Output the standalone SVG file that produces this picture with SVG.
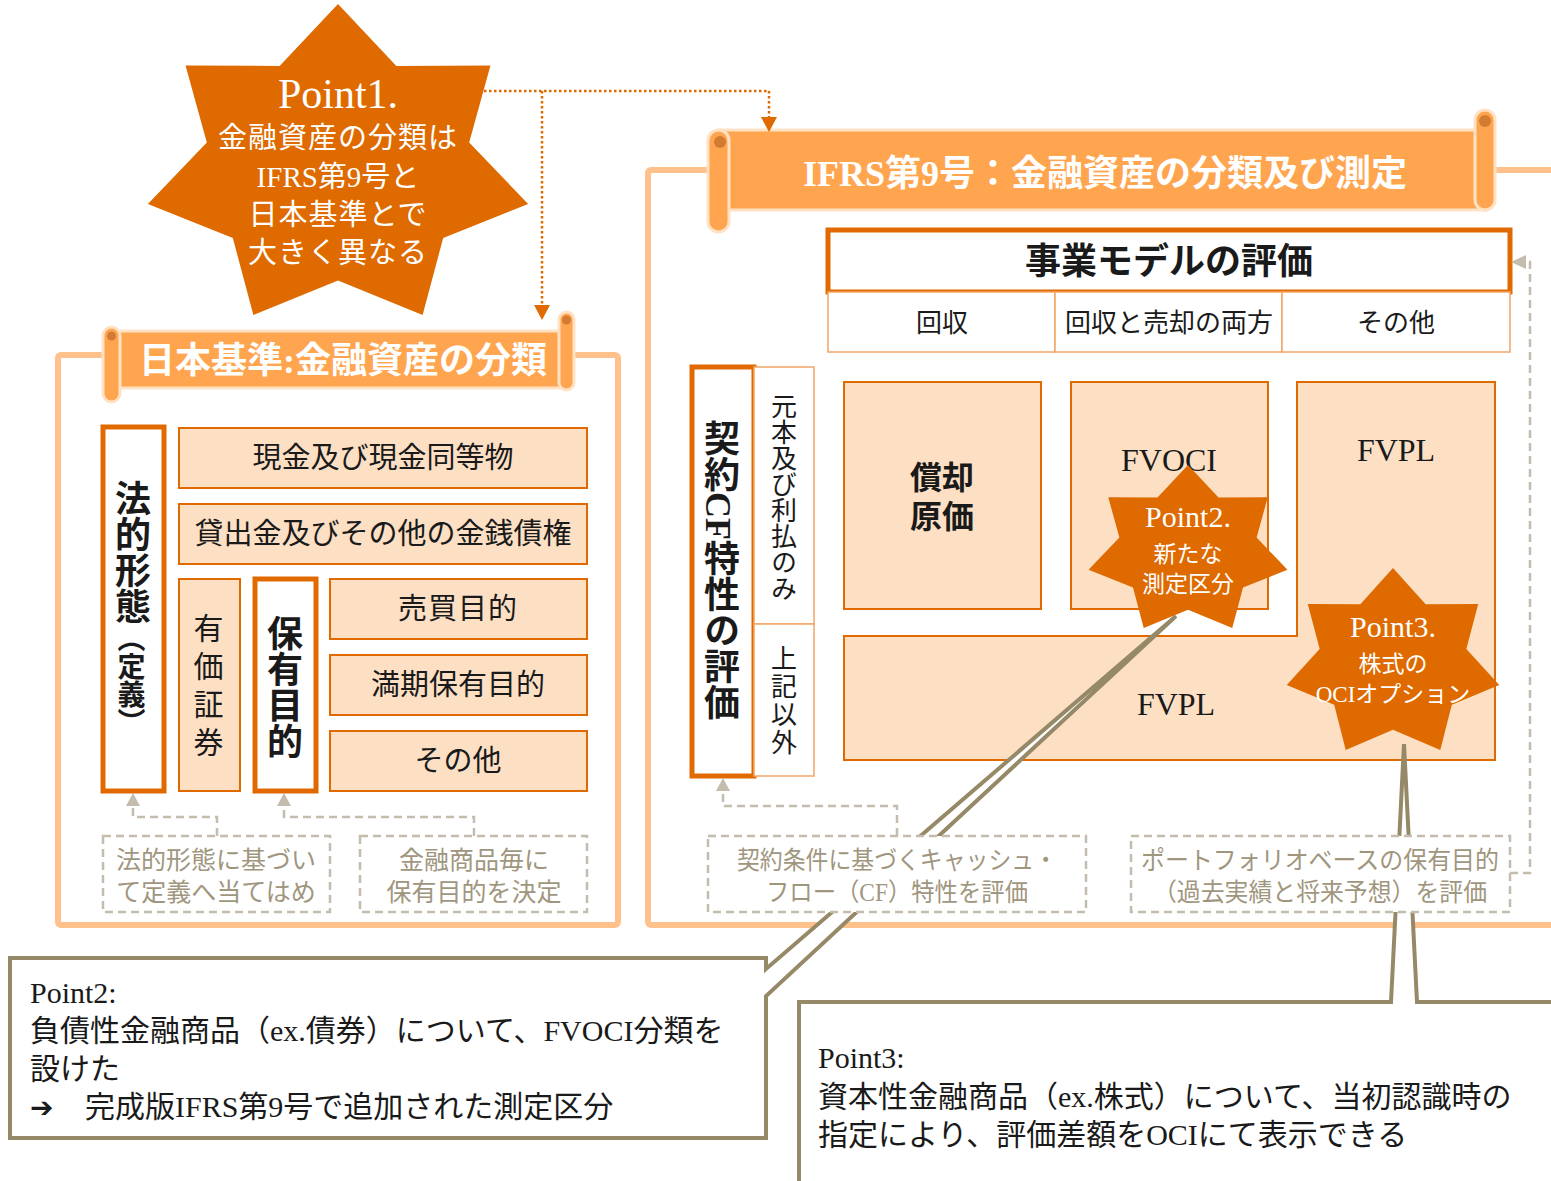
<svg xmlns="http://www.w3.org/2000/svg" width="1551" height="1181" viewBox="0 0 1551 1181">
<style>
text{font-family:"Liberation Serif","Noto Sans CJK JP",serif;fill:#1a1a1a}
.star{fill:#DE6A00}
.peach{fill:#FDDFC4;stroke:#E06A00;stroke-width:2}
.thick{fill:#fff;stroke:#E06A00;stroke-width:5}
.thin{fill:#fff;stroke:#F2A566;stroke-width:1.5}
.frame{fill:none;stroke:#FFC18C;stroke-width:6}
.banner{fill:#FFA550;stroke:#FFE1C4;stroke-width:3}
.curl{fill:#D27B33}
.dash{fill:none;stroke:#C4BDAD;stroke-width:2.5;stroke-dasharray:8 5}
.dashbox{fill:#fff;stroke:#C4BDAD;stroke-width:2.5;stroke-dasharray:8 5}
.garrow{fill:#C4BDAD}
.dot{fill:none;stroke:#E06A00;stroke-width:2.5;stroke-dasharray:2.5 2.5}
.oarrow{fill:#E06A00}
.callout{fill:#fff;stroke:#958968;stroke-width:4}
.wt{fill:#fff}
.bt{fill:#fff;font-weight:bold;font-size:36px}
.cell{font-size:29px;text-anchor:middle;dominant-baseline:central}
.gray{fill:#A0967E;font-size:25px;text-anchor:middle}
.vert{writing-mode:vertical-rl;text-anchor:middle}
.co{font-size:30px}
</style>
<defs>
<polygon id="star7" points="0,-1 0.2994,-0.6217 0.7818,-0.6235 0.6727,-0.1535 0.9749,0.2225 0.5394,0.4302 0.4339,0.901 0,0.69 -0.4339,0.901 -0.5394,0.4302 -0.9749,0.2225 -0.6727,-0.1535 -0.7818,-0.6235 -0.2994,-0.6217"/>
</defs>
<rect width="1551" height="1181" fill="#fff"/>

<!-- frames -->
<g id="frames">
<rect class="frame" x="58" y="355" width="560" height="570" rx="3"/>
<rect class="frame" x="648" y="170" width="1000" height="755" rx="3"/>
</g>

<!-- banners -->
<g id="banner-jp">
<rect class="banner" x="112" y="331" width="456" height="57" rx="4"/>
<rect class="banner" x="559" y="312" width="15" height="78" rx="7.5"/>
<rect class="banner" x="103" y="327" width="17" height="75" rx="8.5"/>
<circle class="curl" cx="111.5" cy="336" r="4.5"/>
<circle class="curl" cx="566.5" cy="320" r="4.5"/>
<text class="bt" x="343" y="373" text-anchor="middle">日本基準:金融資産の分類</text>
</g>
<g id="banner-ifrs">
<rect class="banner" x="718" y="130" width="768" height="80"/>
<rect class="banner" x="1475" y="110" width="20" height="100" rx="10"/>
<rect class="banner" x="708" y="130" width="21" height="102" rx="10.5"/>
<circle class="curl" cx="720" cy="142" r="6"/>
<circle class="curl" cx="1485" cy="121" r="6"/>
<text class="bt" x="1105" y="186" text-anchor="middle">IFRS第9号：金融資産の分類及び測定</text>
</g>

<!-- left panel nodes -->
<g id="n-houteki">
<rect class="thick" x="103" y="427" width="61" height="364"/>
<text class="vert" x="129" y="608" font-weight="bold"><tspan font-size="36">法的形態</tspan><tspan font-size="28">（定義）</tspan></text>
</g>
<g id="n-genkin">
<rect class="peach" x="179" y="428" width="408" height="60"/>
<text class="cell" x="383" y="458">現金及び現金同等物</text>
</g>
<g id="n-kashidashi">
<rect class="peach" x="179" y="504" width="408" height="60"/>
<text class="cell" x="383" y="534">貸出金及びその他の金銭債権</text>
</g>
<g id="n-yuka">
<rect class="peach" x="179" y="579" width="61" height="212"/>
<text class="vert" x="206" y="689" font-size="30" letter-spacing="8">有価証券</text>
</g>
<g id="n-hoyu">
<rect class="thick" x="255" y="579" width="61" height="212"/>
<text class="vert" x="281" y="687" font-size="36" font-weight="bold">保有目的</text>
</g>
<g id="n-baibai">
<rect class="peach" x="330" y="579" width="257" height="60"/>
<text class="cell" x="458" y="609" letter-spacing="1">売買目的</text>
</g>
<g id="n-manki">
<rect class="peach" x="330" y="655" width="257" height="60"/>
<text class="cell" x="458" y="685">満期保有目的</text>
</g>
<g id="n-sonota-l">
<rect class="peach" x="330" y="731" width="257" height="60"/>
<text class="cell" x="458" y="761">その他</text>
</g>

<!-- right panel nodes -->
<g id="n-jigyo">
<rect class="thick" x="828" y="230" width="682" height="62" stroke-width="4"/>
<text x="1169" y="262" font-size="36" font-weight="bold" text-anchor="middle" dominant-baseline="central">事業モデルの評価</text>
</g>
<g id="n-kaishu">
<rect class="thin" x="828" y="292" width="227" height="60"/>
<text x="942" y="323" font-size="26" text-anchor="middle" dominant-baseline="central" fill="#333">回収</text>
</g>
<g id="n-ryoho">
<rect class="thin" x="1055" y="292" width="227" height="60"/>
<text x="1169" y="323" font-size="26" text-anchor="middle" dominant-baseline="central" fill="#333">回収と売却の両方</text>
</g>
<g id="n-sonota-r">
<rect class="thin" x="1282" y="292" width="228" height="60"/>
<text x="1396" y="323" font-size="26" text-anchor="middle" dominant-baseline="central" fill="#333">その他</text>
</g>
<g id="n-keiyaku">
<rect class="thick" x="692" y="367" width="62" height="409"/>
<text class="vert" x="718" y="570" font-size="36" font-weight="bold">契約CF特性の評価</text>
</g>
<g id="n-ganpon">
<rect class="thin" x="754" y="367" width="60" height="257"/>
<text class="vert" x="781" y="497" font-size="26" fill="#333">元本及び利払のみ</text>
</g>
<g id="n-joki">
<rect class="thin" x="754" y="624" width="60" height="152"/>
<text class="vert" x="781" y="701" font-size="26" letter-spacing="2" fill="#333">上記以外</text>
</g>
<g id="n-shokyaku">
<rect class="peach" x="844" y="382" width="197" height="227"/>
<text x="942" y="478" font-size="32" font-weight="bold" text-anchor="middle" dominant-baseline="central">償却</text>
<text x="942" y="517" font-size="32" font-weight="bold" text-anchor="middle" dominant-baseline="central">原価</text>
</g>
<g id="n-fvoci">
<rect class="peach" x="1071" y="382" width="197" height="227"/>
<text x="1169" y="471" font-size="32" text-anchor="middle">FVOCI</text>
</g>
<g id="n-fvpl">
<path class="peach" d="M1297,382 H1495 V760 H844 V636 H1297 Z"/>
<text x="1396" y="461" font-size="32" text-anchor="middle">FVPL</text>
<text x="1176" y="715" font-size="32" text-anchor="middle">FVPL</text>
</g>

<!-- callouts -->
<g id="callout-point2">
<path class="callout" d="M10,958 H766 V969 L1176,616 L766,996 V1138 H10 Z"/>
<text class="co" x="30" y="1003">Point2:</text>
<text class="co" x="30" y="1041">負債性金融商品（ex.債券）について、FVOCI分類を</text>
<text class="co" x="30" y="1079">設けた</text>
<text class="co" x="30" y="1117"><tspan font-family="DejaVu Sans" font-weight="bold" font-size="28">➔</tspan><tspan x="85">完成版IFRS第9号で追加された測定区分</tspan></text>
</g>
<g id="callout-point3">
<path class="callout" d="M799,1190 V1002 H1391 L1404,744 L1417,1002 H1560 V1190"/>
<text class="co" x="818" y="1068">Point3:</text>
<text class="co" x="818" y="1107">資本性金融商品（ex.株式）について、当初認識時の</text>
<text class="co" x="818" y="1145">指定により、評価差額をOCIにて表示できる</text>
</g>

<!-- connectors -->
<g id="connectors">
<path class="dash" d="M217,836 V817 H133 V805"/>
<polygon class="garrow" points="133,793 126,806 140,806"/>
<path class="dash" d="M474,836 V817 H284 V805"/>
<polygon class="garrow" points="284,793 277,806 291,806"/>
<path class="dash" d="M897,836 V806 H723 V791"/>
<polygon class="garrow" points="723,778 716,791 730,791"/>
<path class="dash" d="M1510,873 H1530 V262 H1525"/>
<polygon class="garrow" points="1511,262 1526,255 1526,269"/>
<path class="dot" d="M484,91 H769 V118"/>
<polygon class="oarrow" points="769,132 761,117 777,117"/>
<path class="dot" d="M542,91 V306"/>
<polygon class="oarrow" points="542,320 534,305 550,305"/>
</g>

<!-- dashed note boxes -->
<g id="note-houteki">
<rect class="dashbox" x="103" y="836" width="227" height="76"/>
<text class="gray" x="216" y="869">法的形態に基づい</text>
<text class="gray" x="216" y="901">て定義へ当てはめ</text>
</g>
<g id="note-hoyu">
<rect class="dashbox" x="360" y="836" width="227" height="76"/>
<text class="gray" x="474" y="869">金融商品毎に</text>
<text class="gray" x="474" y="901">保有目的を決定</text>
</g>
<g id="note-cf">
<rect class="dashbox" x="708" y="836" width="378" height="76"/>
<text class="gray" x="897" y="869" font-size="24" textLength="320" lengthAdjust="spacingAndGlyphs">契約条件に基づくキャッシュ・</text>
<text class="gray" x="897" y="901" font-size="24" textLength="262" lengthAdjust="spacingAndGlyphs">フロー（CF）特性を評価</text>
</g>
<g id="note-portfolio">
<rect class="dashbox" x="1131" y="836" width="379" height="76"/>
<text class="gray" x="1320" y="869" font-size="24" textLength="358" lengthAdjust="spacingAndGlyphs">ポートフォリオベースの保有目的</text>
<text class="gray" x="1320" y="901" font-size="24" textLength="334" lengthAdjust="spacingAndGlyphs">（過去実績と将来予想）を評価</text>
</g>

<!-- stars -->
<g id="star-point1">
<use href="#star7" class="star" transform="translate(338 167.6) scale(195 163.6)"/>
<text class="wt" x="338" y="108" font-size="42" text-anchor="middle">Point1.</text>
<text class="wt" x="338" y="148" font-size="29" letter-spacing="1" text-anchor="middle">金融資産の分類は</text>
<text class="wt" x="338" y="187" font-size="29" text-anchor="middle">IFRS第9号と</text>
<text class="wt" x="338" y="225" font-size="29" letter-spacing="1" text-anchor="middle">日本基準とで</text>
<text class="wt" x="338" y="263" font-size="29" letter-spacing="1" text-anchor="middle">大きく異なる</text>
</g>
<g id="star-point2">
<use href="#star7" class="star" transform="translate(1188 550.7) scale(102 85.7)"/>
<text class="wt" x="1188" y="527" font-size="30" text-anchor="middle">Point2.</text>
<text class="wt" x="1188" y="562" font-size="23" text-anchor="middle">新たな</text>
<text class="wt" x="1188" y="592" font-size="23" text-anchor="middle">測定区分</text>
</g>
<g id="star-point3">
<use href="#star7" class="star" transform="translate(1393 663.7) scale(109 95.7)"/>
<text class="wt" x="1393" y="637" font-size="30" text-anchor="middle">Point3.</text>
<text class="wt" x="1393" y="672" font-size="23" text-anchor="middle">株式の</text>
<text class="wt" x="1393" y="702" font-size="23" text-anchor="middle">OCIオプション</text>
</g>
</svg>
